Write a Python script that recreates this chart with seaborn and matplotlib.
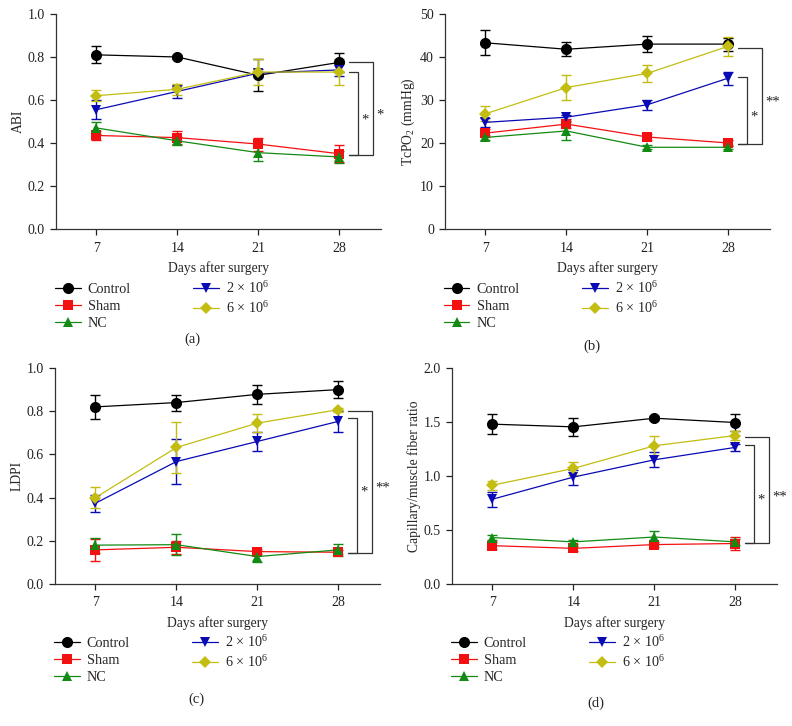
import numpy as np
import pandas as pd
import seaborn as sns
import matplotlib.pyplot as plt
from matplotlib.lines import Line2D

# Data (mean and error, groups in order below)
days = [7, 14, 21, 28]
groups = ["Control", "Sham", "NC", "2 × 10$^{6}$", "6 × 10$^{6}$"]

abi_mean = [[0.81, 0.80, 0.715, 0.775],
            [0.435, 0.425, 0.395, 0.35],
            [0.47, 0.41, 0.355, 0.335],
            [0.555, 0.64, 0.725, 0.74],
            [0.62, 0.65, 0.73, 0.73]]
abi_err = [[0.04, 0.01, 0.075, 0.045],
           [0.02, 0.03, 0.03, 0.04],
           [0.03, 0.02, 0.04, 0.03],
           [0.045, 0.03, 0.02, 0.03],
           [0.025, 0.025, 0.06, 0.06]]

tcpo2_mean = [[43.3, 41.8, 43.0, 43.0],
              [22.3, 24.4, 21.4, 20.0],
              [21.3, 22.8, 19.0, 19.0],
              [24.8, 26.0, 28.9, 35.1],
              [26.8, 32.9, 36.2, 42.5]]
tcpo2_err = [[2.9, 1.6, 1.8, 1.5],
             [1.0, 0.8, 0.6, 0.6],
             [0.6, 2.2, 0.5, 0.5],
             [1.0, 0.5, 1.2, 1.5],
             [1.7, 2.8, 2.0, 2.2]]

ldpi_mean = [[0.82, 0.84, 0.878, 0.90],
             [0.158, 0.17, 0.15, 0.147],
             [0.18, 0.182, 0.127, 0.158],
             [0.374, 0.567, 0.66, 0.753],
             [0.40, 0.632, 0.745, 0.807]]
ldpi_err = [[0.055, 0.037, 0.043, 0.04],
            [0.05, 0.03, 0.01, 0.01],
            [0.035, 0.05, 0.025, 0.027],
            [0.04, 0.105, 0.045, 0.05],
            [0.05, 0.12, 0.04, 0.01]]

cap_mean = [[1.48, 1.455, 1.535, 1.495],
            [0.355, 0.33, 0.365, 0.375],
            [0.43, 0.39, 0.435, 0.39],
            [0.785, 0.99, 1.15, 1.265],
            [0.915, 1.07, 1.28, 1.375]]
cap_err = [[0.095, 0.085, 0.02, 0.08],
           [0.03, 0.02, 0.02, 0.06],
           [0.02, 0.02, 0.06, 0.03],
           [0.07, 0.07, 0.07, 0.03],
           [0.04, 0.06, 0.09, 0.04]]

# significance brackets: (top, bottom, label), inner first
abi_sig = [(0.73, 0.345, "*"), (0.775, 0.345, "*")]
tcpo2_sig = [(35.3, 19.7, "*"), (42.2, 19.7, "**")]
ldpi_sig = [(0.768, 0.145, "*"), (0.802, 0.145, "**")]
cap_sig = [(1.29, 0.377, "*"), (1.36, 0.377, "**")]

colors = ["#000000", "#f21010", "#138a13", "#0a0ab4", "#c2bd10"]
markers = ["o", "s", "^", "v", "D"]
msizes = [8, 7, 7.5, 7.5, 6.5]

sns.set_style("ticks")
plt.rcParams["font.family"] = ["Liberation Serif", "DejaVu Serif"]
plt.rcParams["mathtext.fontset"] = "custom"
plt.rcParams["mathtext.rm"] = "Liberation Serif"
plt.rcParams["mathtext.it"] = "Liberation Serif:italic"
plt.rcParams["font.size"] = 10

W, H = 792, 726
fig = plt.figure(figsize=(W / 100, H / 100), dpi=100)

panels = [
    (abi_mean, abi_err, abi_sig, "ABI", (0, 1.0), np.arange(0, 1.01, 0.2), "{:.1f}", (56, 14, 229), "(a)", (192, 339)),
    (tcpo2_mean, tcpo2_err, tcpo2_sig, "TcPO$_2$ (mmHg)", (0, 50), np.arange(0, 51, 10), "{:.0f}", (445, 14, 229), "(b)", (592, 346)),
    (ldpi_mean, ldpi_err, ldpi_sig, "LDPI", (0, 1.0), np.arange(0, 1.01, 0.2), "{:.1f}", (55, 368, 584), "(c)", (196, 699)),
    (cap_mean, cap_err, cap_sig, "Capillary/muscle fiber ratio", (0, 2.0), np.arange(0, 2.01, 0.5), "{:.1f}", (452, 368, 584), "(d)", (596, 703)),
]

for mean, err, sig, ylab, ylim, yt, fmt, (left, top, bottom), tag, (tx, ty) in panels:
    ax = fig.add_axes([left / W, 1 - bottom / H, 325 / W, (bottom - top) / H])
    rows = []
    for g, vals in zip(groups, mean):
        for d, v in zip(days, vals):
            rows.append({"day": d, "value": v, "group": g})
    df = pd.DataFrame(rows)
    for i, g in enumerate(groups):
        ax.errorbar(days, mean[i], yerr=err[i], fmt="none", ecolor=colors[i],
                    elinewidth=1, capsize=3.5, capthick=1, zorder=1)
        sns.lineplot(data=df[df["group"] == g], x="day", y="value", color=colors[i],
                     marker=markers[i], markersize=msizes[i], markeredgewidth=0,
                     linewidth=0.9, errorbar=None, ax=ax, zorder=2 + i)

    # significance brackets
    yspan = ylim[1] - ylim[0]
    for (yt_, yb_, lab), xv in zip(sig, [29.6, 30.9]):
        ax.plot([28.8, xv, xv, 28.8], [yt_, yt_, yb_, yb_], color="#333333",
                lw=0.9, clip_on=False, zorder=1)
        ax.text(xv + 0.3, (yt_ + yb_) / 2 - 0.03 * yspan, lab, ha="left", va="center",
                fontsize=10.5, color="#222222", clip_on=False)

    ax.set_xlim(3.5, 31.6)
    ax.set_ylim(*ylim)
    ax.set_xticks(days)
    ax.set_yticks(yt)
    ax.set_yticklabels([fmt.format(v) for v in yt])
    ax.set_xlabel("Days after surgery", labelpad=5, fontsize=9.8)
    ax.set_ylabel(ylab, labelpad=2, fontsize=9.8)
    ax.tick_params(length=4, width=0.9, pad=4, labelsize=10, colors="#222222")
    ax.tick_params(axis="x", pad=5)
    for s in ["left", "bottom"]:
        ax.spines[s].set_linewidth(0.9)
        ax.spines[s].set_color("#333333")
    sns.despine(ax=ax)

    handles = [Line2D([], [], color=c, marker=m, markersize=ms, markeredgewidth=0, lw=0.9)
               for c, m, ms in zip(colors, markers, msizes)]
    ax.legend(handles, groups, ncol=2, loc="upper left", frameon=False,
              bbox_to_anchor=((left - 1) / W, 1 - (top + 266) / H),
              bbox_transform=fig.transFigure, borderpad=0, borderaxespad=0,
              handlelength=1.8, handletextpad=0.5, columnspacing=4.4,
              labelspacing=0.3, fontsize=10.2)
    fig.text(tx / W, 1 - ty / H, tag, ha="center", va="center", fontsize=10.5)

fig.savefig("out.png", dpi=100)
